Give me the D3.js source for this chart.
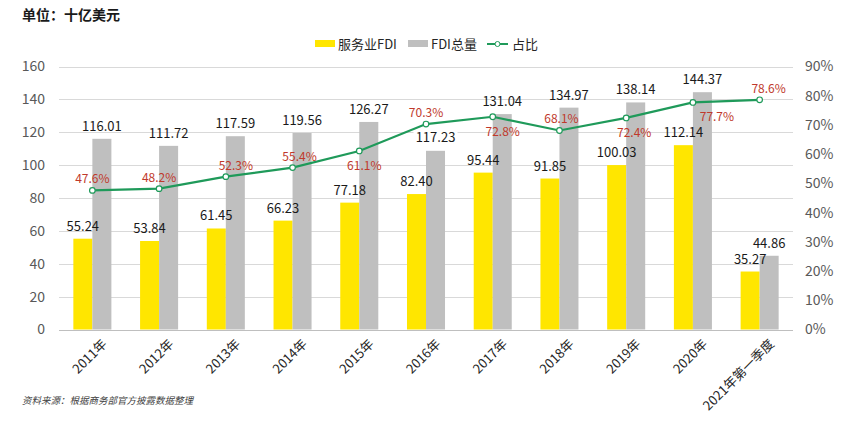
<!DOCTYPE html>
<html><head><meta charset="utf-8">
<script src="https://cdn.jsdelivr.net/npm/d3@7"></script>
<style>body{margin:0;background:#fff;}svg{display:block;}</style>
</head><body>
<script>
const categories = ["2011年","2012年","2013年","2014年","2015年","2016年","2017年","2018年","2019年","2020年","2021年第一季度"];
const serviceFDI = [55.24,53.84,61.45,66.23,77.18,82.40,95.44,91.85,100.03,112.14,35.27];
const totalFDI = [116.01,111.72,117.59,119.56,126.27,117.23,131.04,134.97,138.14,144.37,44.86];
const share = [47.6,48.2,52.3,55.4,61.1,70.3,72.8,68.1,72.4,77.7,78.6];
// label placement hints (relative to the marker)
const shareLabelSide = ["above","above","above","above","below","above","below","above","below","below","above"];
const shareLabelNudge = [0,0,10,7,5,0,10,2,8,24,9];
const totalLabelBoxed = [false,false,false,false,false,true,false,false,false,false,false];
const leftTicks = [0,20,40,60,80,100,120,140,160];
const rightTicks = [0,10,20,30,40,50,60,70,80,90];
const seriesNames = ["服务业FDI","FDI总量","占比"];

const W=859,H=424;
const svg=d3.select("body").append("svg").attr("width",W).attr("height",H);
const font="'Noto Sans CJK SC','Noto Sans',sans-serif";
const m={l:59,r:793,t:66.5,b:329.5};

const x=d3.scaleBand().domain(categories).range([m.l,m.r]).paddingInner(0.43).paddingOuter(0.215);
const yL=d3.scaleLinear().domain([0,160]).range([m.b,m.t]);
const yR=d3.scaleLinear().domain([0,90]).range([m.b,m.t]);
const bw=x.bandwidth()/2;

// gridlines
svg.append("g").selectAll("line").data(leftTicks).join("line")
 .attr("x1",m.l).attr("x2",m.r).attr("y1",d=>Math.round(yL(d))+0.5).attr("y2",d=>Math.round(yL(d))+0.5)
 .attr("stroke",d=>d===0?"#bfbfbf":"#d9d9d9").attr("stroke-width",1);

// left axis
const axL=svg.append("g").attr("transform",`translate(${m.l},0)`).call(d3.axisLeft(yL).tickValues(leftTicks).tickSize(0).tickPadding(14));
axL.select(".domain").remove();
axL.selectAll("text").attr("font-family",font).attr("font-size",14).attr("fill","#595959");

// right axis
const axR=svg.append("g").attr("transform",`translate(${m.r},0)`).call(d3.axisRight(yR).tickValues(rightTicks).tickSize(0).tickPadding(12).tickFormat(d=>d+"%"));
axR.select(".domain").remove();
axR.selectAll("text").attr("font-family",font).attr("font-size",14).attr("fill","#595959");

// x axis
const axB=svg.append("g").attr("transform",`translate(0,${m.b})`).call(d3.axisBottom(x).tickSize(0).tickPadding(0));
axB.select(".domain").remove();
axB.selectAll("text").attr("font-family",font).attr("font-size",13).attr("fill","#262626")
 .attr("text-anchor","end").attr("transform","translate(8,8) rotate(-45)").attr("dy","0.8em");

// bars
svg.append("g").selectAll("rect").data(serviceFDI).join("rect")
 .attr("x",(d,i)=>x(categories[i])).attr("width",bw)
 .attr("y",d=>yL(d)).attr("height",d=>yL(0)-yL(d)).attr("fill","#FFE600");
svg.append("g").selectAll("rect").data(totalFDI).join("rect")
 .attr("x",(d,i)=>x(categories[i])+bw).attr("width",bw)
 .attr("y",d=>yL(d)).attr("height",d=>yL(0)-yL(d)).attr("fill","#BFBFBF");

// bar labels
svg.append("g").selectAll("text").data(serviceFDI).join("text")
 .attr("x",(d,i)=>x(categories[i])+bw/2).attr("y",d=>yL(d)-8)
 .attr("text-anchor","middle").attr("font-family",font).attr("font-size",13).attr("fill","#1a1a1a")
 .text(d=>d.toFixed(2));
const tl=svg.append("g");
totalFDI.forEach((d,i)=>{
  const cxl=x(categories[i])+bw*1.5;
  if(totalLabelBoxed[i]){
    tl.append("rect").attr("x",cxl-22).attr("y",yL(d)-10).attr("width",44).attr("height",24).attr("fill","#fff");
    tl.append("text").attr("x",cxl).attr("y",yL(d)+5.5);
  } else {
    tl.append("text").attr("x",cxl).attr("y",yL(d)-8);
  }
});
tl.selectAll("text").data(totalFDI)
 .attr("text-anchor","middle").attr("font-family",font).attr("font-size",13).attr("fill","#1a1a1a")
 .text(d=>d.toFixed(2));

// line
const cx=i=>x(categories[i])+bw;
const line=d3.line().x((d,i)=>cx(i)).y(d=>yR(d));
svg.append("path").datum(share).attr("d",line).attr("fill","none").attr("stroke","#1f9a5a").attr("stroke-width",2.2);
svg.append("g").selectAll("circle").data(share).join("circle")
 .attr("cx",(d,i)=>cx(i)).attr("cy",d=>yR(d)).attr("r",2.8)
 .attr("fill","#fff").attr("stroke","#1f9a5a").attr("stroke-width",1.2);
svg.append("g").selectAll("text").data(share).join("text")
 .attr("x",(d,i)=>cx(i)+shareLabelNudge[i]).attr("y",(d,i)=>shareLabelSide[i]==="above"?yR(d)-7:yR(d)+19)
 .attr("text-anchor","middle").attr("font-family",font).attr("font-size",12).attr("fill","#c0392b")
 .text(d=>d.toFixed(1)+"%");

// title
svg.append("text").attr("x",22).attr("y",20).attr("font-family",font).attr("font-size",14).attr("font-weight","bold").attr("fill","#1a1a1a").text("单位：十亿美元");

// legend
const lg=svg.append("g").attr("font-family",font).attr("font-size",13).attr("fill","#262626");
lg.append("rect").attr("x",315).attr("y",40).attr("width",20).attr("height",7).attr("fill","#FFE600");
lg.append("text").attr("x",338).attr("y",49).text(seriesNames[0]);
lg.append("rect").attr("x",408).attr("y",40).attr("width",20).attr("height",7).attr("fill","#BFBFBF");
lg.append("text").attr("x",431).attr("y",49).text(seriesNames[1]);
lg.append("line").attr("x1",487).attr("x2",508).attr("y1",44).attr("y2",44).attr("stroke","#1f9a5a").attr("stroke-width",2);
lg.append("circle").attr("cx",497.5).attr("cy",44).attr("r",2.5).attr("fill","#fff").attr("stroke","#1f9a5a");
lg.append("text").attr("x",512).attr("y",49).text(seriesNames[2]);

// source
svg.append("text").attr("x",22).attr("y",404).attr("font-family",font).attr("font-size",9.5).attr("font-style","italic").attr("fill","#404040").text("资料来源：根据商务部官方披露数据整理");
</script>
</body></html>
